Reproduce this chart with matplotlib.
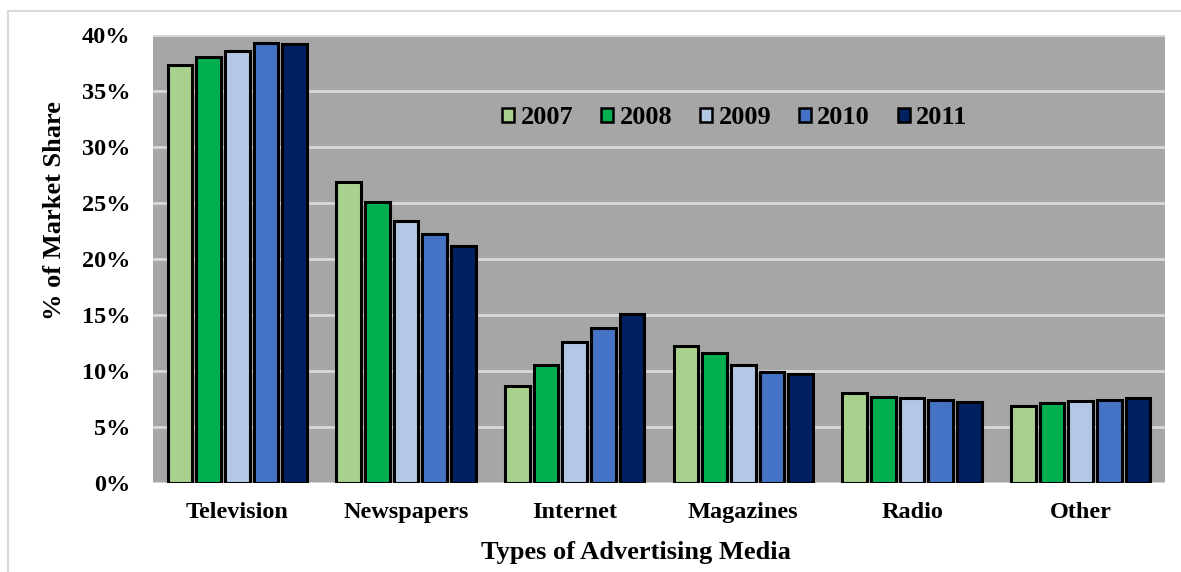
import matplotlib
matplotlib.use("Agg")
import matplotlib.pyplot as plt
import numpy as np
from matplotlib.patches import Rectangle

categories = ["Television", "Newspapers", "Internet", "Magazines", "Radio", "Other"]
years = ["2007", "2008", "2009", "2010", "2011"]
v2007 = [37.3, 26.9, 8.7, 12.2, 8.0, 6.9]
v2008 = [38.0, 25.1, 10.5, 11.6, 7.7, 7.1]
v2009 = [38.6, 23.4, 12.6, 10.5, 7.6, 7.3]
v2010 = [39.3, 22.2, 13.8, 9.9, 7.4, 7.4]
v2011 = [39.2, 21.2, 15.1, 9.7, 7.2, 7.6]
series = [v2007, v2008, v2009, v2010, v2011]
colors = ["#A9D18E", "#00B050", "#B4C7E7", "#4472C4", "#002060"]
yticks = [0, 5, 10, 15, 20, 25, 30, 35, 40]
ytick_labels = ["0%", "5%", "10%", "15%", "20%", "25%", "30%", "35%", "40%"]

plt.rcParams['font.family'] = ['Liberation Serif', 'DejaVu Serif']
plt.rcParams['font.weight'] = 'bold'

W, H = 1181, 572
fig = plt.figure(figsize=(W / 100, H / 100), dpi=100)
fig.patches.append(Rectangle((8 / W, -0.1), 1.2, 1 - 11 / H + 0.1, transform=fig.transFigure,
                             facecolor="white", edgecolor="#D9D9D9", linewidth=1.5, zorder=-5))
ax = fig.add_axes([153 / W, 1 - 483 / H, (1165 - 153) / W, (483 - 35) / H])
ax.set_zorder(2)
ax.set_facecolor("#A6A6A6")

x = np.arange(len(categories))
pitch = 0.17
bw = 0.145
for i, (vals, c, yr) in enumerate(zip(series, colors, years)):
    ax.bar(x + (i - 2) * pitch, vals, width=bw, color=c, edgecolor="black",
           linewidth=2.2, label=yr, zorder=3)

ax.set_xlim(-0.5, len(categories) - 0.5)
ax.set_ylim(0, 40)
ax.set_yticks(yticks)
ax.set_yticklabels(ytick_labels, fontsize=17.5, fontweight='bold')
ax.set_xticks(x)
ax.set_xticklabels(categories, fontsize=17.5, fontweight='bold')
ax.tick_params(axis='both', length=0)
ax.tick_params(axis='y', pad=16.5)
ax.tick_params(axis='x', pad=14)
for yv in yticks:
    ax.axhline(yv, color="#D9D9D9", linewidth=2, zorder=1)
for s in ax.spines.values():
    s.set_visible(False)

ax.set_xlabel("Types of Advertising Media", fontsize=19, fontweight='bold')
ax.xaxis.set_label_coords((636 - 153) / 1012, (483 - 541) / 448)
ax.set_ylabel("% of Market Share", fontsize=19, fontweight='bold')
ax.yaxis.set_label_coords((66 - 153) / 1012, (483 - 211) / 448)

leg = ax.legend(ncol=5, loc="center", bbox_to_anchor=((735 - 153) / (1165 - 153), (483 - 118) / (483 - 35)),
                frameon=False, handlelength=0.45, handleheight=0.45,
                handletextpad=0.25, columnspacing=1.05, prop={'weight': 'bold', 'size': 19})
for h in leg.legend_handles:
    h.set_linewidth(1.8)

fig.savefig("out.png", dpi=100)
